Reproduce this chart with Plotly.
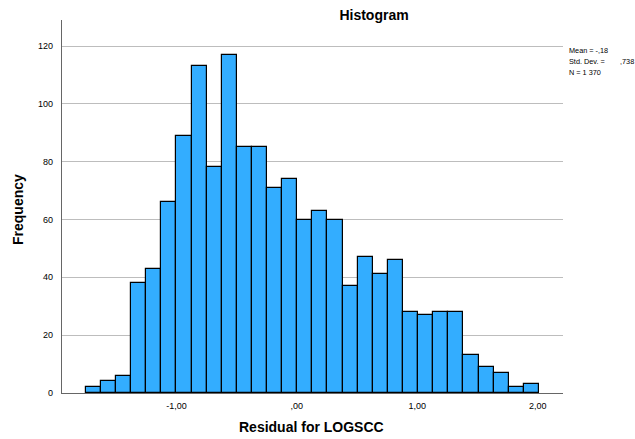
import plotly.graph_objects as go

# Histogram data (pre-binned counts)
bin_start = -1.752
bin_width = 0.1254
counts = [2, 4, 6, 38, 43, 66, 89, 113, 78, 117, 85, 85, 71, 74, 60, 63, 60,
          37, 47, 41, 46, 28, 27, 28, 28, 13, 9, 7, 2, 3]
x_tick_vals = [-1.0, 0.0, 1.0, 2.0]
x_tick_text = ["-1,00", ",00", "1,00", "2,00"]
y_tick_vals = [0, 20, 40, 60, 80, 100, 120]
stats_labels = ["Mean = -,18", "Std. Dev. =", "N = 1 370"]
std_value = ",738"

centers = [bin_start + bin_width * (i + 0.5) for i in range(len(counts))]

FONT = "Liberation Sans, Arial, sans-serif"

fig = go.Figure()
fig.add_trace(go.Bar(
    x=centers, y=counts, width=bin_width,
    marker=dict(color="#33adff", line=dict(color="#000000", width=1.2)),
    hoverinfo="x+y",
))

W, H = 635, 439
L, R, T, B = 62, 72, 20, 46
pw = W - L - R
ph = H - T - B

def px_x(p):
    return (p - L) / pw

def px_y(p):
    return (H - B - p) / ph

stat_font = dict(family=FONT, size=7.3, color="#000000")
annotations = []
for i, line in enumerate(stats_labels):
    annotations.append(dict(
        text=line, xref="paper", yref="paper", x=px_x(568), y=px_y(50.5 + 11 * i),
        xanchor="left", yanchor="middle", showarrow=False, font=stat_font,
        borderpad=0,
    ))
annotations.append(dict(
    text=std_value, xref="paper", yref="paper", x=px_x(618.5), y=px_y(61.5),
    xanchor="left", yanchor="middle", showarrow=False, font=stat_font,
    borderpad=0,
))
annotations.append(dict(
    text="<b>Residual for LOGSCC</b>", xref="paper", yref="paper",
    x=px_x(311), y=px_y(427), xanchor="center", yanchor="middle", showarrow=False,
    font=dict(family=FONT, size=14, color="#000000"),
))
annotations.append(dict(
    text="<b>Frequency</b>", xref="paper", yref="paper",
    x=px_x(18), y=px_y(210), xanchor="center", yanchor="middle", showarrow=False,
    textangle=-90, font=dict(family=FONT, size=14, color="#000000"),
))

fig.update_layout(
    width=W, height=H,
    margin=dict(l=L, r=R, t=T, b=B, pad=0),
    paper_bgcolor="white", plot_bgcolor="white",
    bargap=0, showlegend=False,
    font=dict(family=FONT, color="#000000"),
    title=dict(text="<b>Histogram</b>", x=374 / W, y=1 - 15 / H,
               xref="container", yref="container",
               xanchor="center", yanchor="middle",
               font=dict(family=FONT, size=14, color="#000000")),
    annotations=annotations,
    xaxis=dict(range=[-1.95, 2.21], tickvals=x_tick_vals, ticktext=x_tick_text,
               showgrid=False, zeroline=False, showline=True, linecolor="#666666",
               linewidth=1.3, ticks="", ticklabelstandoff=4,
               tickfont=dict(family=FONT, size=9, color="#000000")),
    yaxis=dict(range=[0, 129], tickvals=y_tick_vals, showgrid=True,
               gridcolor="#bdbdbd", gridwidth=1, zeroline=False, showline=True,
               linecolor="#666666", linewidth=1.3, ticks="", ticklabelstandoff=6,
               tickfont=dict(family=FONT, size=9, color="#000000")),
)

fig.write_html("out.html", config={"displayModeBar": False},
               post_script="document.body.style.margin='0';document.body.style.overflow='hidden';")
